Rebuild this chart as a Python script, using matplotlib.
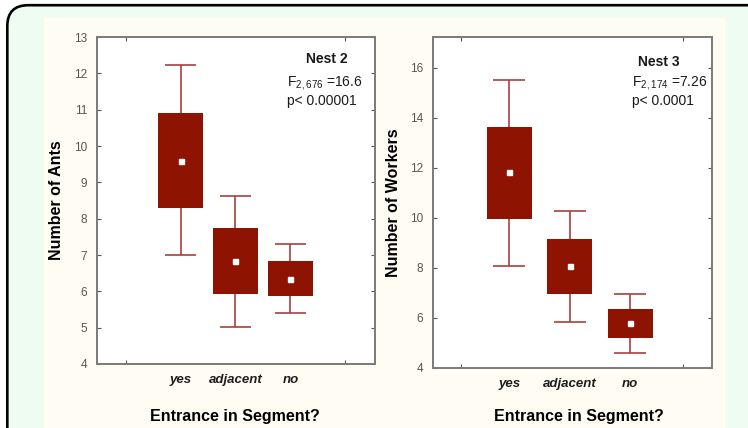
import numpy as np
import matplotlib
matplotlib.use("Agg")
import matplotlib.pyplot as plt
from matplotlib.patches import FancyBboxPatch, Rectangle

plt.rcParams['font.family'] = ['Liberation Sans', 'DejaVu Sans']
plt.rcParams['mathtext.default'] = 'regular'

# categories and box statistics
categories = ['yes', 'adjacent', 'no']

nest2_mean = [9.60, 6.84, 6.35]
nest2_box_lo = [8.30, 5.94, 5.87]
nest2_box_hi = [10.90, 7.73, 6.83]
nest2_whisk_lo = [7.00, 5.02, 5.39]
nest2_whisk_hi = [12.23, 8.62, 7.29]

nest3_mean = [11.83, 8.08, 5.81]
nest3_box_lo = [9.96, 6.95, 5.21]
nest3_box_hi = [13.65, 9.17, 6.37]
nest3_whisk_lo = [8.09, 5.83, 4.59]
nest3_whisk_hi = [15.52, 10.29, 6.96]

box_color = '#8e1300'
whisk_color = '#a84040'
tick_color = '#555555'
spine_color = '#7a7a7a'

fig = plt.figure(figsize=(7.48, 4.28), dpi=100)
fig.patch.set_facecolor('white')

W, H = 748.0, 428.0
# outer frame (light green with black rounded border)
frame = FancyBboxPatch((7.3 / W, -0.2), 1.2, 0.2 + (H - 5.2) / H,
                       boxstyle="round,pad=0,rounding_size=0.028",
                       transform=fig.transFigure, facecolor='#effcf1',
                       edgecolor='black', linewidth=1.9, zorder=-10,
                       mutation_aspect=W / H)
fig.patches.append(frame)
cream = Rectangle((44 / W, 0), (725 - 44) / W, (H - 18) / H,
                  transform=fig.transFigure, facecolor='#fefcf3',
                  edgecolor='none', zorder=-9)
fig.patches.append(cream)

ax1 = fig.add_axes([97 / W, (H - 364) / H, 278 / W, 327 / H])
ax2 = fig.add_axes([433 / W, (H - 368) / H, 279 / W, 331 / H])


def draw_panel(ax, mean, lo, hi, wlo, whi, box_w, cap_w):
    x = np.arange(1, len(categories) + 1)
    ax.vlines(x, wlo, whi, color=whisk_color, linewidth=1.2, zorder=2)
    ax.hlines(wlo, x - cap_w / 2, x + cap_w / 2, color=whisk_color, linewidth=1.2, zorder=2)
    ax.hlines(whi, x - cap_w / 2, x + cap_w / 2, color=whisk_color, linewidth=1.2, zorder=2)
    ax.bar(x, np.array(hi) - np.array(lo), bottom=lo, width=box_w,
           color=box_color, edgecolor='none', zorder=3)
    ax.plot(x, mean, 's', color='white', markersize=3.6, zorder=4)
    ax.set_xticks(x)
    ax.set_xticklabels(categories, fontsize=9.5, fontweight='bold',
                       fontstyle='italic', color='#1e1e1e')
    ax.tick_params(axis='x', which='major', length=0, pad=7)
    ax.tick_params(axis='y', which='major', direction='in', length=3,
                   width=0.8, color=tick_color, labelcolor=tick_color,
                   labelsize=8.5, pad=7, right=True)
    ax.tick_params(axis='x', which='minor', direction='in', length=3,
                   width=0.8, color=tick_color, top=True)
    for s in ax.spines.values():
        s.set_color(spine_color)
        s.set_linewidth(1.4)
    ax.set_facecolor('white')


draw_panel(ax1, nest2_mean, nest2_box_lo, nest2_box_hi,
           nest2_whisk_lo, nest2_whisk_hi, 0.82, 0.56)
ax1.set_xlim(-0.52, 4.54)
ax1.set_ylim(4, 13)
ax1.set_yticks(np.arange(4, 14, 1))
ax1.set_xticks([0, 1, 2, 3, 4], minor=True)
ax1.tick_params(axis='x', which='minor', top=True)
ax1.set_ylabel('Number of Ants', fontsize=11.5, fontweight='bold')
ax1.yaxis.set_label_coords(-0.117, 0.5)
ax1.set_xlabel('Entrance in Segment?', fontsize=11.5, fontweight='bold', va='center')
ax1.xaxis.set_label_coords(0.496, -0.162)
ax1.text(0.827, 0.933, 'Nest 2', transform=ax1.transAxes, ha='center',
         va='center', fontsize=10, fontweight='bold', color='#1a1a1a')
ax1.text(0.683, 0.859, r'F$_{2,676}$ =16.6', transform=ax1.transAxes,
         ha='left', va='center', fontsize=10, color='#1a1a1a')
ax1.text(0.683, 0.804, 'p< 0.00001', transform=ax1.transAxes,
         ha='left', va='center', fontsize=10, color='#1a1a1a')

draw_panel(ax2, nest3_mean, nest3_box_lo, nest3_box_hi,
           nest3_whisk_lo, nest3_whisk_hi, 0.74, 0.53)
ax2.set_xlim(-0.26, 4.35)
ax2.set_ylim(4, 17.24)
ax2.set_yticks(np.arange(4, 17, 2))
ax2.set_xticks([0.21, 1, 2, 3, 3.87], minor=True)
ax2.set_ylabel('Number of Workers', fontsize=11.5, fontweight='bold')
ax2.yaxis.set_label_coords(-0.115, 0.5)
ax2.set_xlabel('Entrance in Segment?', fontsize=11.5, fontweight='bold', va='center')
ax2.xaxis.set_label_coords(0.523, -0.148)
ax2.text(0.808, 0.924, 'Nest 3', transform=ax2.transAxes, ha='center',
         va='center', fontsize=10, fontweight='bold', color='#1a1a1a')
ax2.text(0.713, 0.861, r'F$_{2,174}$ =7.26', transform=ax2.transAxes,
         ha='left', va='center', fontsize=10, color='#1a1a1a')
ax2.text(0.713, 0.807, 'p< 0.0001', transform=ax2.transAxes,
         ha='left', va='center', fontsize=10, color='#1a1a1a')

fig.savefig('out.png', dpi=100, facecolor=fig.get_facecolor())
